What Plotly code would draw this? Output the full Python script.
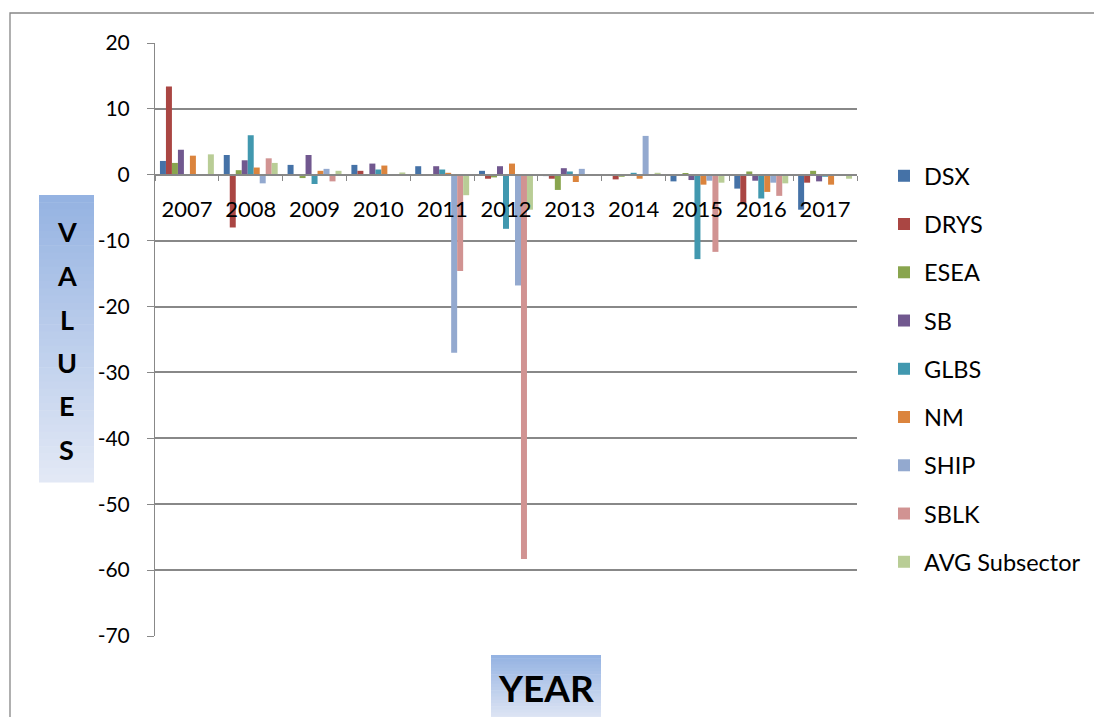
import plotly.graph_objects as go

# ---- data -------------------------------------------------------------
years = ["2007", "2008", "2009", "2010", "2011", "2012",
         "2013", "2014", "2015", "2016", "2017"]

dsx  = [2.1, 3.0, 1.5, 1.5, 1.3, 0.6, -0.2, -0.1, -1.0, -2.1, -5.3]
drys = [13.4, -8.0, 0.0, 0.6, -0.1, -0.6, -0.6, -0.7, -0.1, -4.5, -1.2]
esea = [1.8, 0.7, -0.5, -0.1, 0.0, -0.4, -2.3, -0.3, 0.2, 0.5, 0.6]
sb   = [3.8, 2.2, 3.0, 1.7, 1.3, 1.3, 1.0, 0.0, -0.8, -0.9, -1.0]
glbs = [0.0, 6.0, -1.4, 0.8, 0.8, -8.2, 0.5, 0.3, -12.8, -3.6, -0.3]
nm   = [2.9, 1.1, 0.6, 1.4, 0.3, 1.7, -1.1, -0.6, -1.5, -2.6, -1.5]
ship = [0.0, -1.3, 0.9, 0.0, -27.0, -16.8, 0.9, 5.9, -0.9, -1.2, 0.0]
sblk = [0.0, 2.5, -1.0, 0.0, -14.6, -58.3, 0.1, 0.1, -11.7, -3.2, 0.0]
avg  = [3.1, 1.8, 0.6, 0.35, -3.1, -5.3, 0.0, 0.3, -1.2, -1.3, -0.6]

series_names = ["DSX", "DRYS", "ESEA", "SB", "GLBS", "NM", "SHIP", "SBLK",
                "AVG Subsector"]
series_values = [dsx, drys, esea, sb, glbs, nm, ship, sblk, avg]

y_tick_values = [20, 10, 0, -10, -20, -30, -40, -50, -60, -70]
y_tick_labels = ["20", "10", "0", "-10", "-20", "-30", "-40", "-50", "-60", "-70"]

# ---- styling ----------------------------------------------------------
colors = ["#4572A7", "#AA4643", "#89A54E", "#71588F", "#4198AF",
          "#DB843D", "#93A9CF", "#D19392", "#B9CD96"]

W, H = 1094, 717
PL, PR, PT, PB = 155, 857, 43, 636      # plot area in pixels
FONT = "Lato"
GRID = "#888888"


def px(x):
    return (x - PL) / (PR - PL)


def py(y):
    return (PB - y) / (PB - PT)


fig = go.Figure()
for i, (name, vals) in enumerate(zip(series_names, series_values)):
    fig.add_trace(go.Bar(
        x=years, y=vals, name=name,
        marker=dict(color=colors[i], line=dict(width=0)),
        legendgroup=name,
    ))

shapes = []


def gradient_box(x0, x1, y0, y1, top_rgb, bot_rgb, n=40):
    for k in range(n):
        t = k / (n - 1)
        c = tuple(round(a + (b - a) * t) for a, b in zip(top_rgb, bot_rgb))
        ya = y0 + (y1 - y0) * k / n
        yb = y0 + (y1 - y0) * (k + 1) / n
        shapes.append(dict(
            type="rect", xref="paper", yref="paper",
            x0=px(x0), x1=px(x1), y0=py(ya), y1=py(yb + 0.6),
            fillcolor="rgb(%d,%d,%d)" % c, line=dict(width=0), layer="below",
        ))


TOP_RGB = (149, 179, 226)
BOT_RGB = (226, 232, 245)

# outer chart border
shapes.append(dict(
    type="rect", xref="paper", yref="paper",
    x0=px(10), x1=px(1110), y0=py(13), y1=py(740),
    line=dict(color="#868686", width=1.3), fillcolor="rgba(0,0,0,0)",
    layer="below",
))

# axis title boxes
gradient_box(39, 94, 195, 482, TOP_RGB, BOT_RGB)
gradient_box(491, 601, 655, 719, TOP_RGB, (222, 229, 244), n=20)

annotations = []
for i, ch in enumerate("VALUES"):
    annotations.append(dict(
        text="<b>%s</b>" % ch, xref="paper", yref="paper",
        x=px(66.5), y=py(232 + 43.5 * i), showarrow=False,
        xanchor="center", yanchor="middle",
        font=dict(family=FONT, size=27, color="black"),
    ))
annotations.append(dict(
    text="<b>YEAR</b>", xref="paper", yref="paper",
    x=px(546), y=py(687), showarrow=False,
    xanchor="center", yanchor="middle",
    font=dict(family=FONT, size=37, color="black"),
))

fig.update_layout(
    width=W, height=H,
    margin=dict(l=PL, r=W - PR, t=PT, b=H - PB, pad=0, autoexpand=False),
    paper_bgcolor="white", plot_bgcolor="white",
    barmode="group", bargap=0.155, bargroupgap=0,
    font=dict(family=FONT, color="black"),
    showlegend=True,
    legend=dict(
        x=px(884), y=py(154), xanchor="left", yanchor="top",
        font=dict(family=FONT, size=23.5, color="black"),
        traceorder="grouped", tracegroupgap=14.7,
        bgcolor="rgba(0,0,0,0)", borderwidth=0,
    ),
    shapes=shapes,
    annotations=annotations,
)

fig.update_xaxes(
    type="category", anchor="free", position=70 / 90,
    showline=True, linecolor=GRID, linewidth=1.5,
    ticks="outside", ticklen=5, tickcolor=GRID, tickwidth=1.3,
    tickson="boundaries", showgrid=False,
    ticklabelstandoff=15,
    tickfont=dict(family=FONT, size=22, color="black"),
)
fig.update_yaxes(
    range=[-70, 20], tickvals=y_tick_values, ticktext=y_tick_labels,
    showline=True, linecolor=GRID, linewidth=1,
    ticks="outside", ticklen=7, tickcolor=GRID, tickwidth=1,
    showgrid=True, gridcolor=GRID, gridwidth=2, zeroline=False,
    ticklabelstandoff=13,
    tickfont=dict(family=FONT, size=21, color="black"),
)

fig.write_html("out.html")
